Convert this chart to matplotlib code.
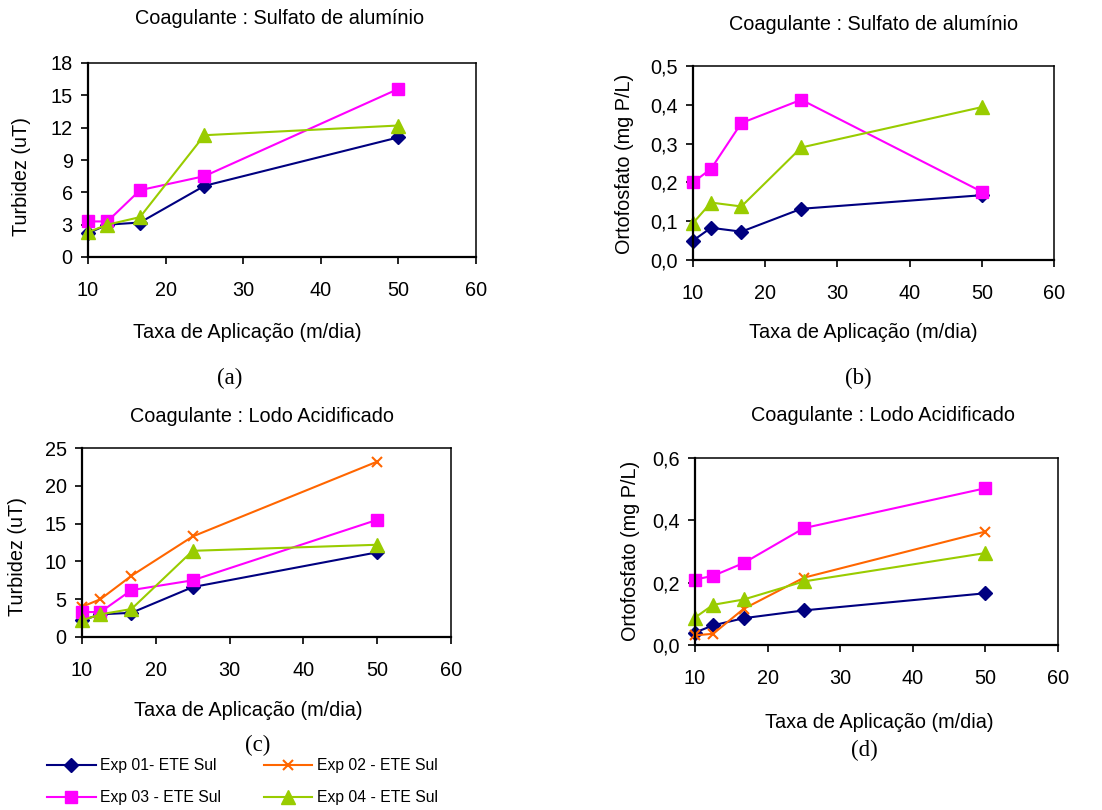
import matplotlib
matplotlib.use("Agg")
import matplotlib.pyplot as plt
from matplotlib.ticker import FuncFormatter

plt.rcParams["font.family"] = ["Liberation Sans", "DejaVu Sans"]

W, H = 1102, 810

# taxa de aplicação (m/dia)
taxa = [10, 12.5, 16.7, 25, 50]

# turbidez (uT) - sulfato de alumínio
turb_sulf_exp01 = [2.2, 3.0, 3.2, 6.6, 11.1]
turb_sulf_exp03 = [3.3, 3.3, 6.2, 7.5, 15.6]
turb_sulf_exp04 = [2.3, 3.0, 3.7, 11.3, 12.2]

# ortofosfato (mg P/L) - sulfato de alumínio
orto_sulf_exp01 = [0.050, 0.083, 0.073, 0.132, 0.167]
orto_sulf_exp03 = [0.200, 0.235, 0.353, 0.413, 0.176]
orto_sulf_exp04 = [0.095, 0.148, 0.138, 0.290, 0.394]

# turbidez (uT) - lodo acidificado
turb_lodo_exp01 = [2.2, 3.0, 3.2, 6.6, 11.2]
turb_lodo_exp02 = [4.0, 5.0, 8.1, 13.3, 23.2]
turb_lodo_exp03 = [3.3, 3.3, 6.2, 7.5, 15.5]
turb_lodo_exp04 = [2.2, 3.0, 3.7, 11.4, 12.2]

# ortofosfato (mg P/L) - lodo acidificado
orto_lodo_exp01 = [0.040, 0.063, 0.086, 0.111, 0.166]
orto_lodo_exp02 = [0.031, 0.036, 0.116, 0.216, 0.364]
orto_lodo_exp03 = [0.210, 0.222, 0.263, 0.375, 0.503]
orto_lodo_exp04 = [0.088, 0.129, 0.146, 0.204, 0.295]

labels = ["Exp 01- ETE Sul", "Exp 02 - ETE Sul", "Exp 03 - ETE Sul", "Exp 04 - ETE Sul"]

STYLE = {
    0: dict(color="#000080", marker="D", ms=7.5),
    1: dict(color="#FF6600", marker="x", ms=7.5, mew=1.5),
    2: dict(color="#FF00FF", marker="s", ms=8.5),
    3: dict(color="#99CC00", marker="^", ms=10),
}

FS = 14.3


def rect(l, t, r, b):
    return [l / W, 1 - b / H, (r - l) / W, (b - t) / H]


def ftext(fig, x, y, s, **kw):
    fig.text(x / W, 1 - y / H, s, ha="center", va="center", **kw)


def panel(fig, box, series, ymax, ystep, comma):
    ax = fig.add_axes(rect(*box))
    for idx, y in series:
        st = STYLE[idx]
        ax.plot(taxa, y, color=st["color"], marker=st["marker"], ms=st["ms"],
                mew=st.get("mew", 1), lw=1.5, clip_on=False, label=labels[idx])
    ax.set_xlim(10, 60)
    ax.set_ylim(0, ymax)
    ax.set_xticks(range(10, 61, 10))
    n = round(ymax / ystep)
    ax.set_yticks([i * ystep for i in range(n + 1)])
    if comma:
        ax.yaxis.set_major_formatter(FuncFormatter(lambda v, p: f"{v:.1f}".replace(".", ",")))
    ax.tick_params(axis="x", direction="out", length=5, width=1.2, pad=12, labelsize=FS)
    ax.tick_params(axis="y", direction="out", length=5, width=1.2, pad=6, labelsize=FS)
    for s in ["left", "bottom"]:
        ax.spines[s].set_linewidth(1.6)
    for s in ["top", "right"]:
        ax.spines[s].set_linewidth(1.1)
    return ax


fig = plt.figure(figsize=(W / 100, H / 100), dpi=100)

panel(fig, (88, 63, 476, 257),
      [(0, turb_sulf_exp01), (2, turb_sulf_exp03), (3, turb_sulf_exp04)], 18, 3, False)
panel(fig, (693, 66, 1054, 260),
      [(0, orto_sulf_exp01), (2, orto_sulf_exp03), (3, orto_sulf_exp04)], 0.5, 0.1, True)
ax_c = panel(fig, (82, 448, 451, 637),
             [(0, turb_lodo_exp01), (1, turb_lodo_exp02), (2, turb_lodo_exp03), (3, turb_lodo_exp04)],
             25, 5, False)
panel(fig, (695, 458, 1058, 645),
      [(0, orto_lodo_exp01), (1, orto_lodo_exp02), (2, orto_lodo_exp03), (3, orto_lodo_exp04)],
      0.6, 0.2, True)

# titles, axis labels and panel letters
for x, y, s in [(280, 19, "Coagulante : Sulfato de alumínio"),
                (874, 25, "Coagulante : Sulfato de alumínio"),
                (262, 417, "Coagulante : Lodo Acidificado"),
                (883, 415, "Coagulante : Lodo Acidificado")]:
    ftext(fig, x, y, s, fontsize=FS)

for x, y in [(247, 333), (863, 332), (248, 710), (879, 722)]:
    ftext(fig, x, y, "Taxa de Aplicação (m/dia)", fontsize=FS)

for x, y, s in [(22, 176, "Turbidez (uT)"), (625, 164, "Ortofosfato (mg P/L)"),
                (18, 557, "Turbidez (uT)"), (631, 551, "Ortofosfato (mg P/L)")]:
    ftext(fig, x, y, s, fontsize=FS, rotation=90)

for x, y, s in [(230, 378, "(a)"), (858, 378, "(b)"), (258, 745, "(c)"), (864, 750, "(d)")]:
    ftext(fig, x, y, s, fontsize=16.5, family="Liberation Serif")

handles, labs = ax_c.get_legend_handles_labels()
order = [0, 2, 1, 3]
fig.legend([handles[i] for i in order], [labs[i] for i in order],
           ncol=2, loc="upper left", bbox_to_anchor=(47 / W, 1 - 758 / H),
           frameon=False, fontsize=11.3, handlelength=3.1, handletextpad=0.3,
           columnspacing=2.7, labelspacing=1.1, borderpad=0, borderaxespad=0,
           numpoints=1)

fig.savefig("out.png", dpi=100)
